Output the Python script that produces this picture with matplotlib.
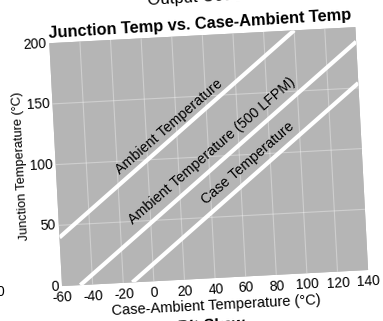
import matplotlib

matplotlib.use("Agg")
import matplotlib.pyplot as plt
from matplotlib.transforms import Affine2D
import mpl_toolkits.axisartist.floating_axes as floating_axes
from mpl_toolkits.axisartist.grid_finder import FixedLocator, DictFormatter

plt.rcParams["font.family"] = ["Liberation Sans", "DejaVu Sans"]

# ── Data ──────────────────────────────────────────────────────────────────────
x_ticks = [-60, -40, -20, 0, 20, 40, 60, 80, 100, 120, 140]
y_ticks = [0, 50, 100, 150, 200]

ambient_x = [-60, 100]
ambient_y = [40, 200]
lfpm_x = [-48, 140]
lfpm_y = [0, 188]
case_x = [-14, 140]
case_y = [0, 154]

labels = ["Ambient Temperature", "Ambient Temperature (500 LFPM)", "Case Temperature"]
label_xy = [(15, 126), (42, 105), (65, 93)]

# ── Geometry of the (slightly rotated) scan, in pixels ───────────────────────
W, H = 383, 321
ANGLE = 3.0
sx, sy = 306.5 / 200, 243.2 / 200

tr = Affine2D().scale(sx, sy).rotate_deg(ANGLE)
grid_helper = floating_axes.GridHelperCurveLinear(
    tr,
    extremes=(-60, 140, 0, 200),
    grid_locator1=FixedLocator(x_ticks),
    grid_locator2=FixedLocator(y_ticks),
    tick_formatter1=DictFormatter({v: str(v) for v in x_ticks}),
    tick_formatter2=DictFormatter({v: str(v) for v in y_ticks}),
)

fig = plt.figure(figsize=(W / 100, H / 100), dpi=100)
fig.patch.set_facecolor("white")

# host box = rotated plot bbox, expanded 2 % (floating axes pads its limits)
bw, bh = 318.8 * 1.02, 258.9 * 1.02
cx, cy = 208.7, 156.6
rect = [(cx - bw / 2) / W, (H - (cy + bh / 2)) / H, bw / W, bh / H]
ax = fig.add_axes(rect, axes_class=floating_axes.FloatingAxes, grid_helper=grid_helper)

ax.patch.set_facecolor("#b5b5b5")
ax.patch.set_edgecolor("none")
ax.grid(True, color="white", linewidth=0.8, alpha=0.35)

for side in ["left", "right", "top", "bottom"]:
    ax.axis[side].line.set_visible(False)
    ax.axis[side].major_ticks.set_visible(False)
for side in ["right", "top"]:
    ax.axis[side].major_ticklabels.set_visible(False)
    ax.axis[side].label.set_visible(False)
ax.axis["left"].major_ticklabels.set_fontsize(10)
ax.axis["bottom"].major_ticklabels.set_fontsize(10)
ax.axis["left"].major_ticklabels.set_pad(2)
ax.axis["bottom"].major_ticklabels.set_pad(4)

aux = ax.get_aux_axes(tr)
aux.patch = ax.patch
ax.patch.zorder = 0.9

for xs, ys in [(ambient_x, ambient_y), (lfpm_x, lfpm_y), (case_x, case_y)]:
    aux.plot(xs, ys, color="white", linewidth=3.0, solid_capstyle="butt")

for txt, (lx, ly) in zip(labels, label_xy):
    aux.text(lx, ly, txt, rotation=41, rotation_mode="anchor",
             ha="center", va="center", fontsize=10.3, color="black")

# ── Texts around the plot ────────────────────────────────────────────────────
fig.text(200 / W, 1 - 24 / H, "Junction Temp vs. Case-Ambient Temp",
         ha="center", va="center", rotation=3.5, rotation_mode="anchor",
         fontsize=11.8, fontweight="bold")
fig.text(21 / W, 1 - 166 / H, "Junction Temperature (°C)",
         ha="center", va="center", rotation=93, rotation_mode="anchor",
         fontsize=9.2)
fig.text(216 / W, 1 - 306 / H, "Case-Ambient Temperature (°C)",
         ha="center", va="center", rotation=3, rotation_mode="anchor",
         fontsize=10.5)

# remnants of neighbouring charts in the scan
fig.text(195 / W, 1 - 5 / H, "Output Code", ha="center", va="baseline",
         rotation=3.5, fontsize=12)
fig.text(245 / W, 1 - 317 / H, "Input to Output Bit Skew", ha="right", va="top",
         rotation=3.5, fontsize=11.5, fontweight="bold")
fig.text(0, 1 - 292 / H, "0", ha="center", va="center", fontsize=10)

plt.savefig("out.png", dpi=100, facecolor="white")
